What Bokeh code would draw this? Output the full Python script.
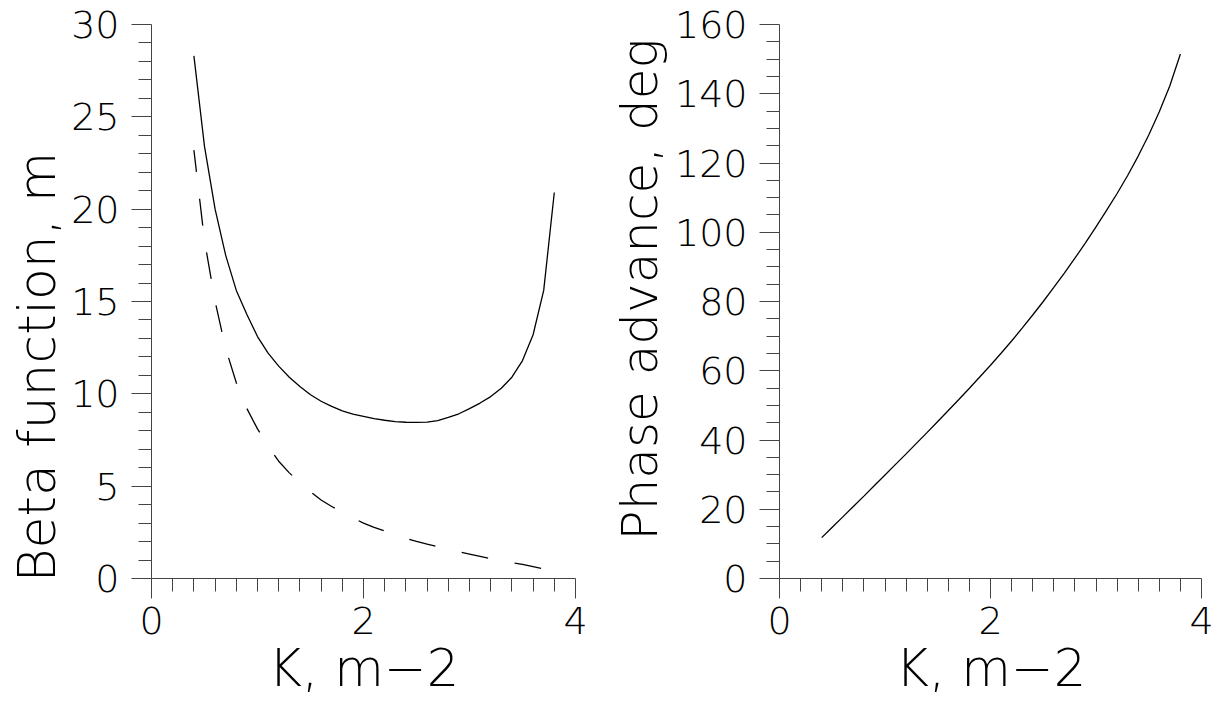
from bokeh.embed import file_html
from bokeh.layouts import row
from bokeh.models import FixedTicker, LinearAxis, Range1d, Title
from bokeh.plotting import figure
from bokeh.resources import INLINE

# Quadrupole strength K (m^-2)
k_values = [0.4, 0.5, 0.6, 0.7, 0.8, 0.9, 1.0, 1.1, 1.2, 1.3, 1.4, 1.5,
            1.6, 1.7, 1.8, 1.9, 2.0, 2.1, 2.2, 2.3, 2.4, 2.5, 2.6, 2.7,
            2.8, 2.9, 3.0, 3.1, 3.2, 3.3, 3.4, 3.5, 3.6, 3.7, 3.8]

# Maximum beta function (m)
beta_max = [28.3, 23.4, 20.0, 17.5, 15.6, 14.3, 13.1, 12.2, 11.5, 10.9,
            10.4, 9.95, 9.6, 9.32, 9.08, 8.9, 8.78, 8.66, 8.57, 8.5,
            8.46, 8.45, 8.47, 8.55, 8.72, 8.92, 9.2, 9.5, 9.85, 10.3,
            10.9, 11.8, 13.2, 15.6, 20.9]

# Minimum beta function (m)
beta_min = [23.2, 18.3, 15.0, 12.45, 10.6, 9.2, 8.1, 7.17, 6.35, 5.72,
            5.2, 4.7, 4.25, 3.9, 3.59, 3.28, 3.0, 2.77, 2.57, 2.37,
            2.18, 2.01, 1.86, 1.72, 1.58, 1.44, 1.32, 1.2, 1.08, 0.96,
            0.86, 0.76, 0.64, 0.52, 0.40]

# Phase advance per cell (deg)
phase_adv = [11.8, 14.8, 17.8, 20.8, 23.8, 26.85, 29.9, 32.95, 36.0, 39.1,
             42.2, 45.35, 48.5, 51.7, 54.95, 58.25, 61.6, 65.05, 68.6,
             72.3, 76.1, 80.0, 84.05, 88.2, 92.5, 96.95, 101.55, 106.3,
             111.2, 116.4, 122.0, 128.1, 134.8, 142.3, 151.5]

x_major = [0, 2, 4]
x_minor = [0.2 * i for i in range(1, 20) if i % 10 != 0]
beta_major = [0, 5, 10, 15, 20, 25, 30]
beta_minor = [i for i in range(1, 30) if i % 5 != 0]
phase_major = [0, 20, 40, 60, 80, 100, 120, 140, 160]
phase_minor = [i for i in range(5, 160, 5) if i % 20 != 0]

x_title = "K, m−2"
beta_title = "Beta function, m"
phase_title = "Phase advance, deg"

FONT = "DejaVu Sans Light"
AXIS_COLOR = "#444444"


def style_axis(axis):
    axis.axis_line_color = AXIS_COLOR
    axis.axis_line_width = 1
    axis.major_tick_line_color = AXIS_COLOR
    axis.minor_tick_line_color = AXIS_COLOR
    axis.major_tick_out = 20
    axis.major_tick_in = 0
    axis.minor_tick_out = 13
    axis.minor_tick_in = 0
    axis.major_label_text_font = FONT
    axis.major_label_text_font_size = "38px"
    axis.major_label_text_color = "black"


def make_title(text, offset, standoff, size):
    return Title(text=text, align="left", offset=offset, standoff=standoff,
                 vertical_align="bottom", text_font=FONT,
                 text_font_size=size, text_font_style="normal",
                 text_color="black")


def make_panel(width, left, right, y_end, y_major, y_minor, y_title,
               x_title_shift, y_title_shift, y_title_gap, y_title_size):
    p = figure(width=width, height=702,
               x_range=Range1d(0, 4), y_range=Range1d(0, y_end),
               x_axis_type=None, y_axis_type=None,
               min_border_left=left, min_border_right=right,
               min_border_top=24, min_border_bottom=124,
               output_backend="svg", toolbar_location=None)
    p.outline_line_color = None
    p.background_fill_color = "white"
    p.border_fill_color = "white"

    xaxis = LinearAxis(ticker=FixedTicker(ticks=x_major, minor_ticks=x_minor))
    style_axis(xaxis)
    xaxis.major_label_standoff = 8
    p.add_layout(xaxis, "below")

    yaxis = LinearAxis(ticker=FixedTicker(ticks=y_major, minor_ticks=y_minor))
    style_axis(yaxis)
    yaxis.major_label_standoff = 12
    p.add_layout(yaxis, "left")

    p.add_layout(make_title(x_title, x_title_shift, 0, "51px"), "below")
    p.add_layout(make_title(y_title, y_title_shift, y_title_gap,
                            y_title_size), "left")
    return p


left = make_panel(606, 151, 31, 30, beta_major, beta_minor, beta_title,
                  117, -4, 4, "52px")
left.line(k_values, beta_max, line_color="black", line_width=1.3)
left.line(k_values, beta_min, line_color="black", line_width=1.3,
          line_dash="27 27", line_dash_offset=5)

right = make_panel(619, 173, 24, 160, phase_major, phase_minor, phase_title,
                   116, 38, 5, "50px")
right.line(k_values, phase_adv, line_color="black", line_width=1.3)

layout = row(left, right)

open("out.html", "w").write(file_html(layout, INLINE))
